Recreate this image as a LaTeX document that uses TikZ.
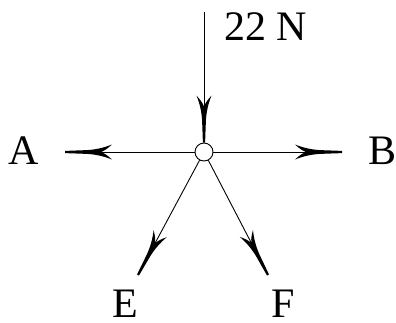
\documentclass[tikz,border=0pt]{standalone}
\usepackage{fontspec}
\setmainfont{Liberation Serif}
\usetikzlibrary{arrows.meta}
\pgfdeclarearrow{
  name = Barb,
  setup code = {
    \pgfarrowssettipend{0pt}
    \pgfarrowssetlineend{-25pt}
    \pgfarrowssetbackend{-47pt}
    \pgfarrowssetvisualbackend{-37pt}
    \pgfarrowshullpoint{0pt}{0pt}
    \pgfarrowshullpoint{-47pt}{7.5pt}
    \pgfarrowshullpoint{-47pt}{-7.5pt}
  },
  drawing code = {
    \pgfpathmoveto{\pgfqpoint{0pt}{-1.1pt}}
    \pgfpathlineto{\pgfqpoint{0pt}{1.1pt}}
    \pgfpathlineto{\pgfqpoint{-22pt}{1.9pt}}
    \pgfpathcurveto{\pgfqpoint{-30pt}{2.3pt}}{\pgfqpoint{-39pt}{4.2pt}}{\pgfqpoint{-47pt}{7.5pt}}
    \pgfpathcurveto{\pgfqpoint{-43pt}{4pt}}{\pgfqpoint{-40pt}{1.5pt}}{\pgfqpoint{-37pt}{0.5pt}}
    \pgfpathlineto{\pgfqpoint{-37pt}{-0.5pt}}
    \pgfpathcurveto{\pgfqpoint{-40pt}{-1.5pt}}{\pgfqpoint{-43pt}{-4pt}}{\pgfqpoint{-47pt}{-7.5pt}}
    \pgfpathcurveto{\pgfqpoint{-39pt}{-4.2pt}}{\pgfqpoint{-30pt}{-2.3pt}}{\pgfqpoint{-22pt}{-1.9pt}}
    \pgfpathclose
    \pgfusepathqfill
  }
}
\tikzset{
  force/.style={line width=0.9pt, -{Barb}},
  lbl/.style={inner sep=0pt, font=\fontsize{42}{50}\selectfont},
  joint/.style={circle, draw, line width=0.9pt, fill=white, minimum size=18pt, inner sep=0pt}
}
\begin{document}
\begin{tikzpicture}[x=1pt, y=-1pt]
\useasboundingbox (0,0) rectangle (396,322);
\node[joint] (c) at (204,152) {};
\coordinate (t) at (204,12);
\coordinate (a) at (65,152);
\coordinate (b) at (342,152);
\coordinate (e) at (138,275);
\coordinate (f) at (268,275);
\draw[force] (t) -- (c.north);
\draw[force] (c) -- (a);
\draw[force] (c) -- (b);
\draw[force] (c) -- (e);
\draw[force] (c) -- (f);
\node[lbl] (la) at (23.5,151) {A};
\node[lbl] (lb) at (382.5,151) {B};
\node[lbl] (le) at (125,304) {E};
\node[lbl] (lf) at (283,304) {F};
\node[lbl] (ln) at (265.5,27) {22 N};
\end{tikzpicture}
\end{document}
